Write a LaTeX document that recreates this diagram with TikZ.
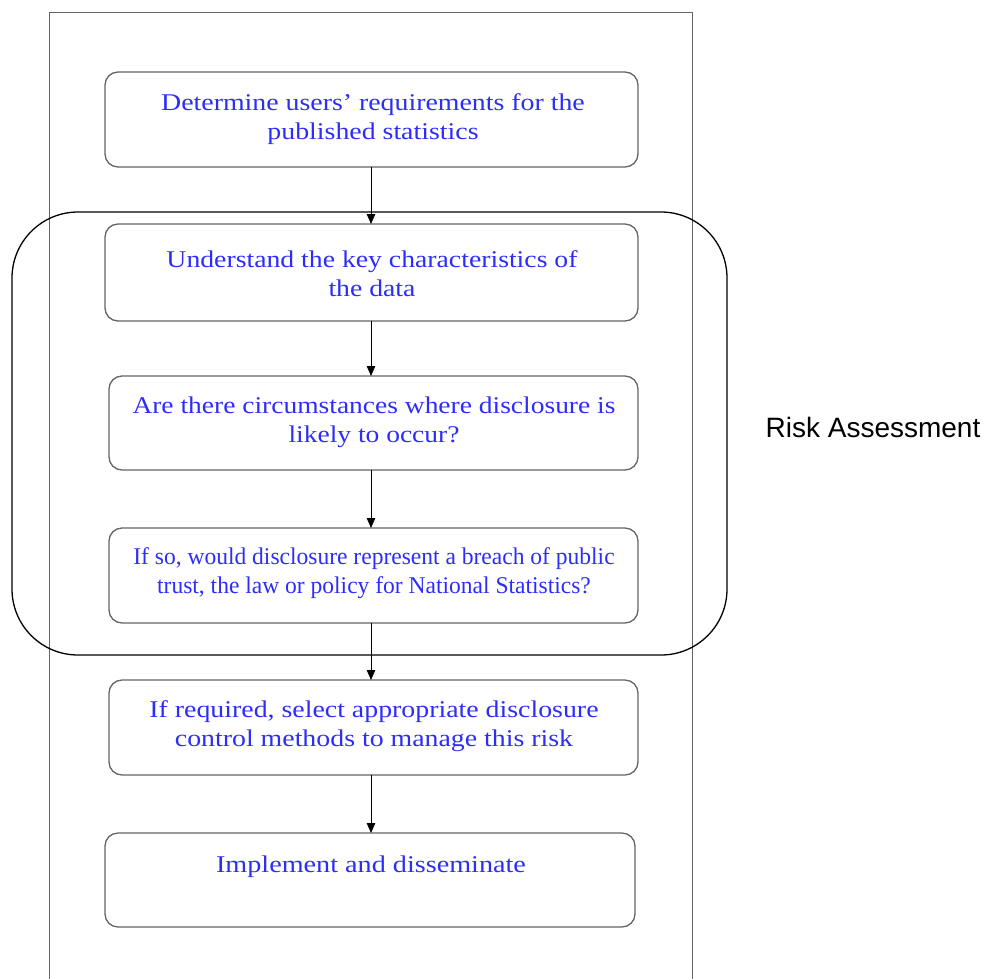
\documentclass[tikz,border=0pt]{standalone}
\usepackage{fontspec}
\setmainfont{Liberation Serif}
\newfontfamily\arialfont{Liberation Sans}
\usetikzlibrary{arrows.meta}
\definecolor{txtblue}{RGB}{45,45,250}
\definecolor{boxgray}{RGB}{100,100,100}
\tikzset{
  stepbox/.style={draw=boxgray, line width=1.3pt, rounded corners=13pt, inner sep=0pt},
  steptext/.style={text=txtblue, align=center, font=\fontsize{24}{29}\selectfont, inner sep=0pt, transform shape},
  flow/.style={draw=black, line width=1pt, -{Triangle[length=10pt,width=8.5pt]}},
}
\begin{document}
\begin{tikzpicture}[x=1pt,y=-1pt]
\useasboundingbox (0,0) rectangle (985,978);
% outer frame (open at bottom)
\draw[boxgray, line width=1pt] (49,1000) -- (49,12) -- (692,12) -- (692,1000);
% risk container
\draw[black, line width=1.3pt, rounded corners=66pt] (12,212) rectangle (727,655);
% boxes
\draw[stepbox] (105,72) rectangle (638,167);
\coordinate (b1n) at (371,72); \coordinate (b1s) at (371,167);
\draw[stepbox] (105,224) rectangle (638,321);
\coordinate (b2n) at (371,224); \coordinate (b2s) at (371,321);
\draw[stepbox] (109,376) rectangle (638,470);
\coordinate (b3n) at (371,376); \coordinate (b3s) at (371,470);
\draw[stepbox] (109,528) rectangle (638,623);
\coordinate (b4n) at (371,528); \coordinate (b4s) at (371,623);
\draw[stepbox] (109,680) rectangle (638,775);
\coordinate (b5n) at (371,680); \coordinate (b5s) at (371,775);
\draw[stepbox] (105,833) rectangle (635,927);
\coordinate (b6n) at (371,833);
% texts
\node[steptext, xscale=1.16] (t1) at (373,119) {Determine users' requirements for the\\published statistics};
\node[steptext, xscale=1.155] (t2) at (372,274) {Understand the key characteristics of\\the data};
\node[steptext, xscale=1.145] (t3) at (374,422) {Are there circumstances where disclosure is\\likely to occur?};
\node[steptext, xscale=0.98] (t4) at (374,573) {If so, would disclosure represent a breach of public\\trust, the law or policy for National Statistics?};
\node[steptext, xscale=1.16] (t5) at (374,726) {If required, select appropriate disclosure\\control methods to manage this risk};
\node[steptext, xscale=1.174] (t6) at (371,867) {Implement and disseminate};
% arrows
\draw[flow] (b1s) -- (b2n);
\draw[flow] (b2s) -- (b3n);
\draw[flow] (b3s) -- (b4n);
\draw[flow] (b4s) -- (b5n);
\draw[flow] (b5s) -- (b6n);
% label
\node[font=\arialfont\fontsize{28}{33}\selectfont, inner sep=0pt] (ra) at (873,427) {Risk Assessment};
\end{tikzpicture}
\end{document}
